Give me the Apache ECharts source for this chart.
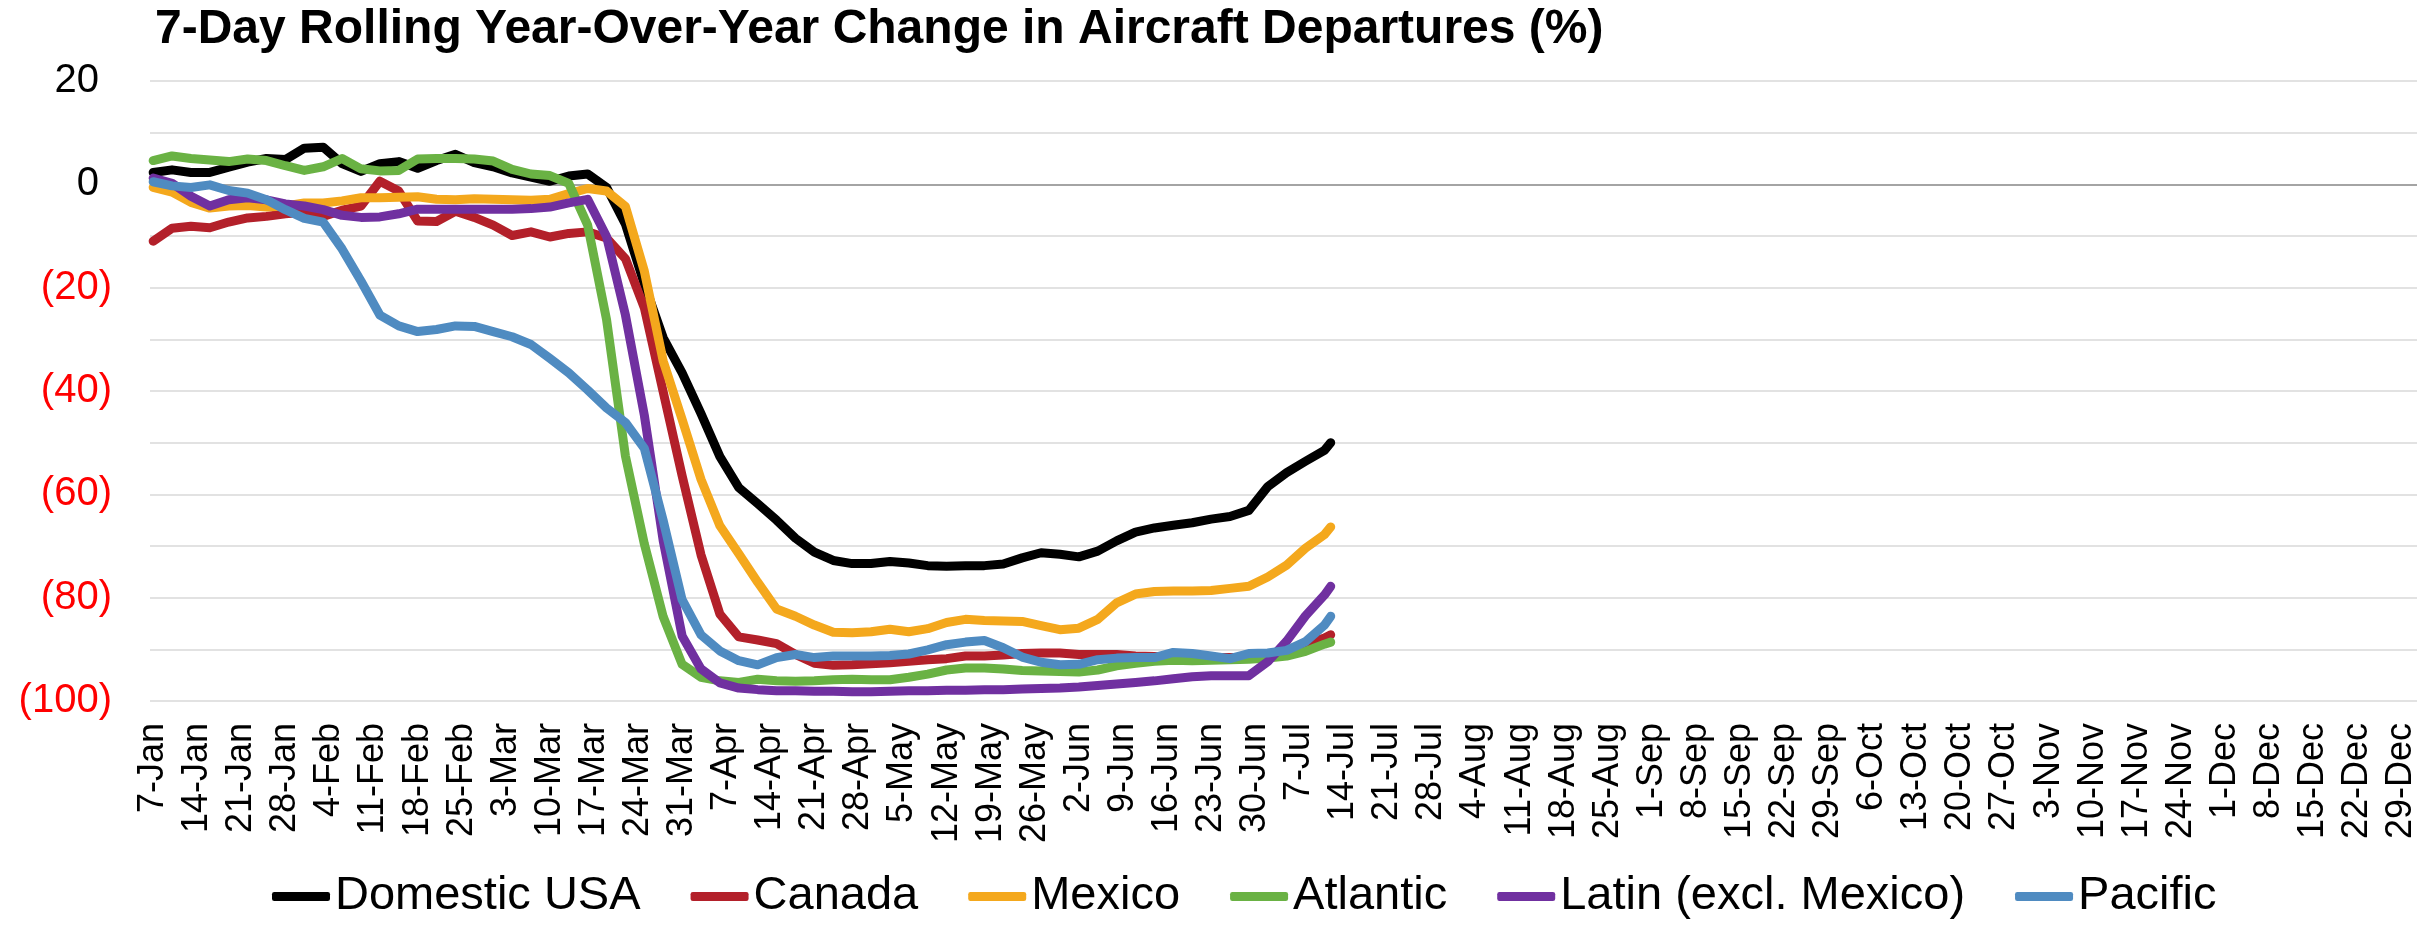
<!DOCTYPE html>
<html>
<head>
<meta charset="utf-8">
<title>7-Day Rolling Year-Over-Year Change in Aircraft Departures (%)</title>
<script src="https://cdn.jsdelivr.net/npm/echarts@6/dist/echarts.min.js"></script>
<style>
  html, body { margin: 0; padding: 0; background: #ffffff; }
  #chart { width: 2433px; height: 929px; }
</style>
</head>
<body>
<div id="chart"></div>
<script>
// Calendar of the axis: every day from 7-Jan to 31-Dec 2020 (leap year)
const MONTHS = ['Jan', 'Feb', 'Mar', 'Apr', 'May', 'Jun', 'Jul', 'Aug', 'Sep', 'Oct', 'Nov', 'Dec'];
const MONTH_DAYS = [31, 29, 31, 30, 31, 30, 31, 31, 30, 31, 30, 31];
const axisDays = [];
for (let m = 0; m < 12; m++) {
  for (let d = 1; d <= MONTH_DAYS[m]; d++) {
    if (m > 0 || d >= 7) axisDays.push(d + '-' + MONTHS[m]);
  }
}

// Dates at which the rolling change is recorded
const sampleDates = ['7-Jan','10-Jan','13-Jan','16-Jan','19-Jan','22-Jan','25-Jan','28-Jan','31-Jan',
  '3-Feb','6-Feb','9-Feb','12-Feb','15-Feb','18-Feb','21-Feb','24-Feb','27-Feb',
  '1-Mar','4-Mar','7-Mar','10-Mar','13-Mar','16-Mar','19-Mar','22-Mar','25-Mar','28-Mar','31-Mar',
  '3-Apr','6-Apr','9-Apr','12-Apr','15-Apr','18-Apr','21-Apr','24-Apr','27-Apr','30-Apr',
  '3-May','6-May','9-May','12-May','15-May','18-May','21-May','24-May','27-May','30-May',
  '2-Jun','5-Jun','8-Jun','11-Jun','14-Jun','17-Jun','20-Jun','23-Jun','26-Jun','29-Jun',
  '2-Jul','5-Jul','8-Jul','11-Jul','12-Jul'];

// 7-day rolling year-over-year change (%) by region
const domesticUSA = [2.3, 2.8, 2.3, 2.3, 3.3, 4.3, 5.0, 4.8, 7.0, 7.2, 4.0, 2.5, 4.0, 4.4, 3.1, 4.6,
  5.8, 4.2, 3.4, 2.2, 1.4, 0.6, 1.6, 2.0, -0.6, -7.7, -19.3, -29.7, -36.5, -44.4, -52.7, -58.7,
  -61.8, -65.0, -68.5, -71.2, -72.8, -73.4, -73.4, -73.0, -73.3, -73.8, -73.9, -73.8, -73.8, -73.5, -72.3, -71.3,
  -71.6, -72.1, -71.0, -69.0, -67.3, -66.5, -66.0, -65.5, -64.8, -64.3, -63.1, -58.5, -55.8, -53.6, -51.5, -50.0];
const canada = [-11.0, -8.5, -8.1, -8.4, -7.3, -6.5, -6.2, -5.7, -5.4, -6.2, -5.0, -4.2, 0.6, -1.3, -7.1, -7.2,
  -5.2, -6.4, -7.9, -9.9, -9.2, -10.2, -9.5, -9.2, -10.4, -14.4, -23.9, -40.2, -56.4, -71.7, -83.2, -87.6,
  -88.2, -88.9, -91.0, -92.7, -93.1, -93.0, -92.8, -92.6, -92.3, -92.0, -91.8, -91.3, -91.3, -91.1, -90.8, -90.7,
  -90.7, -91.0, -91.0, -91.0, -91.3, -91.4, -91.5, -91.6, -91.6, -91.6, -91.6, -91.1, -90.2, -89.0, -87.8, -87.2];
const mexico = [-0.6, -1.5, -3.5, -4.6, -4.2, -4.1, -4.4, -4.2, -3.6, -3.6, -3.2, -2.6, -2.6, -2.5, -2.4, -2.9,
  -3.0, -2.8, -2.9, -3.0, -3.1, -2.9, -1.8, -0.8, -1.3, -4.3, -16.8, -34.2, -45.5, -57.1, -66.1, -71.5,
  -77.0, -82.2, -83.6, -85.3, -86.7, -86.8, -86.6, -86.1, -86.6, -86.0, -84.8, -84.2, -84.4, -84.5, -84.6, -85.4,
  -86.2, -85.9, -84.2, -81.0, -79.3, -78.8, -78.7, -78.7, -78.6, -78.2, -77.8, -76.0, -73.7, -70.4, -67.8, -66.3];
const atlantic = [4.6, 5.5, 5.0, 4.7, 4.4, 4.9, 4.6, 3.6, 2.7, 3.4, 5.0, 3.0, 2.6, 2.7, 4.9, 5.0,
  5.0, 4.9, 4.5, 2.9, 2.0, 1.7, 0.2, -7.9, -26.2, -52.6, -69.6, -83.7, -92.9, -95.4, -96.1, -96.4,
  -95.8, -96.1, -96.2, -96.1, -95.9, -95.8, -95.9, -95.9, -95.4, -94.8, -94.0, -93.6, -93.6, -93.8, -94.1, -94.2,
  -94.3, -94.4, -94.0, -93.2, -92.7, -92.3, -92.1, -92.2, -92.1, -92.0, -91.9, -91.7, -91.3, -90.4, -89.0, -88.6];
const latinExMexico = [1.2, 0.2, -2.3, -4.2, -3.0, -2.6, -3.0, -3.8, -4.2, -4.9, -6.0, -6.4, -6.3, -5.7, -4.8, -4.8,
  -4.8, -4.8, -4.8, -4.8, -4.7, -4.4, -3.6, -2.9, -10.1, -25.3, -44.7, -69.0, -87.4, -93.8, -96.5, -97.5,
  -97.8, -98.0, -98.0, -98.1, -98.1, -98.2, -98.2, -98.1, -98.0, -98.0, -97.9, -97.9, -97.8, -97.8, -97.7, -97.6,
  -97.5, -97.3, -97.0, -96.7, -96.4, -96.1, -95.7, -95.3, -95.1, -95.1, -95.1, -92.4, -88.4, -83.5, -79.5, -77.8];
const pacific = [0.5, -0.3, -0.6, -0.1, -1.2, -1.7, -3.0, -4.9, -6.6, -7.3, -12.5, -18.7, -25.3, -27.4, -28.5, -28.1,
  -27.4, -27.5, -28.5, -29.5, -31.0, -33.7, -36.5, -39.8, -43.3, -46.1, -51.1, -65.1, -80.4, -87.2, -90.3, -92.2,
  -93.0, -91.6, -91.0, -91.6, -91.3, -91.3, -91.3, -91.2, -90.9, -90.1, -89.1, -88.6, -88.3, -89.7, -91.5, -92.5,
  -93.0, -92.9, -92.0, -91.7, -91.6, -91.6, -90.6, -90.8, -91.3, -91.8, -90.8, -90.7, -90.2, -88.5, -85.3, -83.6];

const seriesNames = ['Domestic USA', 'Canada', 'Mexico', 'Atlantic', 'Latin (excl. Mexico)', 'Pacific'];
const seriesValues = [domesticUSA, canada, mexico, atlantic, latinExMexico, pacific];
const seriesColors = ['#000000', '#B3202A', '#F4A81D', '#6AB244', '#7030A0', '#4F8BC1'];

const FONT = '"Liberation Sans", Arial, sans-serif';
const LINE_WIDTH = 9;

// Light grid every 10 points, with a darker line at zero (-100 .. 20 → 13 lines)
const gridColors = [];
for (let v = -100; v <= 20; v += 10) gridColors.push(v === 0 ? '#868686' : '#D9D9D9');

const series = seriesNames.map((name, i) => ({
  name: name,
  type: 'line',
  data: sampleDates.map((d, k) => [axisDays.indexOf(d), seriesValues[i][k]]),
  symbol: 'none',
  showSymbol: false,
  smooth: false,
  itemStyle: { color: seriesColors[i] },
  lineStyle: { width: LINE_WIDTH, color: seriesColors[i], cap: 'round', join: 'round' },
  emphasis: { disabled: true },
  animation: false
}));

const chart = echarts.init(document.getElementById('chart'), null, { renderer: 'canvas' });
chart.setOption({
  backgroundColor: '#ffffff',
  animation: false,
  title: {
    text: '7-Day Rolling Year-Over-Year Change in Aircraft Departures (%)',
    left: 155,
    top: 6,
    padding: 0,
    textStyle: { fontFamily: FONT, fontSize: 48, fontWeight: 'bold', color: '#000000' }
  },
  legend: {
    data: seriesNames,
    left: 272,
    top: 873,
    padding: 0,
    icon: 'roundRect',
    itemWidth: 58,
    itemHeight: 9,
    itemGap: 50,
    textStyle: { fontFamily: FONT, fontSize: 47, color: '#000000' }
  },
  grid: { left: 150, right: 16, top: 81, bottom: 228, containLabel: false },
  xAxis: {
    type: 'category',
    data: axisDays,
    boundaryGap: true,
    axisLine: { show: false },
    axisTick: { show: false },
    splitLine: { show: false },
    axisLabel: {
      interval: 6,
      rotate: 90,
      margin: 22,
      fontFamily: FONT,
      fontSize: 36,
      color: '#000000'
    }
  },
  yAxis: {
    type: 'value',
    min: -100,
    max: 20,
    interval: 10,
    axisLine: { show: false },
    axisTick: { show: false },
    splitLine: { show: true, lineStyle: { color: gridColors, width: 1.5 } },
    axisLabel: {
      margin: 38,
      fontFamily: FONT,
      fontSize: 40,
      formatter: function (v) {
        if (v % 20 !== 0) return '';
        return v < 0 ? '{neg|(' + (-v) + ')}' : '{pos|' + v + '}';
      },
      rich: {
        pos: { fontFamily: FONT, fontSize: 40, color: '#000000', padding: [0, 13, 0, 0] },
        neg: { fontFamily: FONT, fontSize: 40, color: '#FF0000' }
      }
    }
  },
  series: series
});
</script>
</body>
</html>
